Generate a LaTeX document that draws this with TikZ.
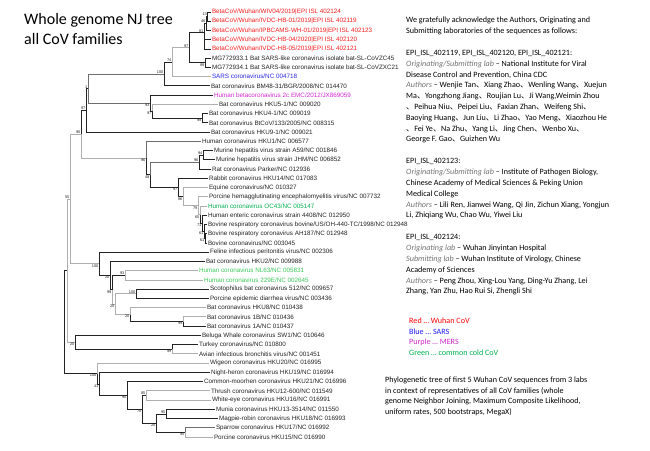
\documentclass[tikz,border=0pt]{standalone}
\usepackage{fontspec}
\setmainfont{Carlito}
\newfontfamily\arialf{Liberation Sans}
\newfontfamily\cjkf{Noto Sans CJK SC}
\definecolor{wred}{RGB}{245,30,30}
\definecolor{sblue}{RGB}{40,40,225}
\definecolor{mpur}{RGB}{215,40,215}
\definecolor{cgreen}{RGB}{0,176,80}
\definecolor{lgreen}{RGB}{60,200,90}
\definecolor{dk}{RGB}{35,35,35}
\definecolor{lt}{RGB}{175,175,175}
\definecolor{md}{RGB}{110,110,110}
\newcommand\dn{{\cjkf 、}}
\newcommand\ita[1]{{\itshape\color{black!55}#1}}
\tikzset{
  br/.style={draw=dk, line width=0.9pt},
  brl/.style={draw=lt, line width=0.9pt},
  brm/.style={draw=md, line width=0.9pt},
  lf/.style={anchor=west, inner sep=0.8pt, font=\arialf\fontsize{6.3}{7}\selectfont, text=dk},
  bsa/.style={anchor=south east, inner sep=0.4pt, font=\arialf\fontsize{3.9}{4}\selectfont, text=dk},
  bsb/.style={anchor=north east, inner sep=0.4pt, font=\arialf\fontsize{3.9}{4}\selectfont, text=dk},
  txt/.style={anchor=north west, inner sep=0pt, align=left, font=\fontsize{8.1}{10.8}\selectfont, text=black}
}
\begin{document}
\begin{tikzpicture}[x=1pt,y=-1pt]
\fill[white] (0,0) rectangle (650,450);
\useasboundingbox (0,0) rectangle (650,450);

% title
\node[anchor=north west, inner sep=0pt, align=left, font=\fontsize{16}{20}\selectfont] (title) at (24,13) {Whole genome NJ tree\\all CoV families};

% leaves
\coordinate (l0) at (211,12.0);
\coordinate (l1) at (211,21.2);
\coordinate (l2) at (211,30.5);
\coordinate (l3) at (211,39.7);
\coordinate (l4) at (211,49.0);
\coordinate (l5) at (211,58.2);
\coordinate (l6) at (211,67.4);
\coordinate (l7) at (211,76.7);
\coordinate (l8) at (210,85.9);
\coordinate (l9) at (213,95.2);
\coordinate (l10) at (218,104.4);
\coordinate (l11) at (208,113.6);
\coordinate (l12) at (208,122.9);
\coordinate (l13) at (210,132.1);
\coordinate (l14) at (201,141.4);
\coordinate (l15) at (213,150.6);
\coordinate (l16) at (215,159.8);
\coordinate (l17) at (211,169.1);
\coordinate (l18) at (208,178.3);
\coordinate (l19) at (208,187.6);
\coordinate (l20) at (208,196.8);
\coordinate (l21) at (207,206.0);
\coordinate (l22) at (207,215.3);
\coordinate (l23) at (207,224.5);
\coordinate (l24) at (207,233.8);
\coordinate (l25) at (207,243.0);
\coordinate (l26) at (209,252.2);
\coordinate (l27) at (205,261.5);
\coordinate (l28) at (198,270.7);
\coordinate (l29) at (203,280.0);
\coordinate (l30) at (209,289.2);
\coordinate (l31) at (209,298.4);
\coordinate (l32) at (206,307.7);
\coordinate (l33) at (206,316.9);
\coordinate (l34) at (206,326.2);
\coordinate (l35) at (201,335.4);
\coordinate (l36) at (198,344.6);
\coordinate (l37) at (198,353.9);
\coordinate (l38) at (209,363.1);
\coordinate (l39) at (210,372.4);
\coordinate (l40) at (203,381.6);
\coordinate (l41) at (210,390.8);
\coordinate (l42) at (211,400.1);
\coordinate (l43) at (215,409.3);
\coordinate (l44) at (218,418.6);
\coordinate (l45) at (215,427.8);
\coordinate (l46) at (213,437.0);

% leaf labels
\node[lf,text=wred] (t0) at (l0) {BetaCoV/Wuhan/WIV04/2019|EPI ISL 402124};
\node[lf,text=wred] (t1) at (l1) {BetaCoV/Wuhan/IVDC-HB-01/2019|EPI ISL 402119};
\node[lf,text=wred] (t2) at (l2) {BetaCoV/Wuhan/IPBCAMS-WH-01/2019|EPI ISL 402123};
\node[lf,text=wred] (t3) at (l3) {BetaCoV/Wuhan/IVDC-HB-04/2020|EPI ISL 402120};
\node[lf,text=wred] (t4) at (l4) {BetaCoV/Wuhan/IVDC-HB-05/2019|EPI ISL 402121};
\node[lf] (t5) at (l5) {MG772933.1 Bat SARS-like coronavirus isolate bat-SL-CoVZC45};
\node[lf] (t6) at (l6) {MG772934.1 Bat SARS-like coronavirus isolate bat-SL-CoVZXC21};
\node[lf,text=sblue] (t7) at (l7) {SARS coronavirus/NC 004718};
\node[lf] (t8) at (l8) {Bat coronavirus BM48-31/BGR/2008/NC 014470};
\node[lf,text=mpur] (t9) at (l9) {Human betacoronavirus 2c EMC/2012/JX869059};
\node[lf] (t10) at (l10) {Bat coronavirus HKU5-1/NC 009020};
\node[lf] (t11) at (l11) {Bat coronavirus HKU4-1/NC 009019};
\node[lf] (t12) at (l12) {Bat coronavirus BtCoV/133/2005/NC 008315};
\node[lf] (t13) at (l13) {Bat coronavirus HKU9-1/NC 009021};
\node[lf] (t14) at (l14) {Human coronavirus HKU1/NC 006577};
\node[lf] (t15) at (l15) {Murine hepatitis virus strain A59/NC 001846};
\node[lf] (t16) at (l16) {Murine hepatitis virus strain JHM/NC 006852};
\node[lf] (t17) at (l17) {Rat coronavirus Parker/NC 012936};
\node[lf] (t18) at (l18) {Rabbit coronavirus HKU14/NC 017083};
\node[lf] (t19) at (l19) {Equine coronavirus/NC 010327};
\node[lf] (t20) at (l20) {Porcine hemagglutinating encephalomyelitis virus/NC 007732};
\node[lf,text=cgreen] (t21) at (l21) {Human coronavirus OC43/NC 005147};
\node[lf] (t22) at (l22) {Human enteric coronavirus strain 4408/NC 012950};
\node[lf] (t23) at (l23) {Bovine respiratory coronavirus bovine/US/OH-440-TC/1998/NC 012948};
\node[lf] (t24) at (l24) {Bovine respiratory coronavirus AH187/NC 012948};
\node[lf] (t25) at (l25) {Bovine coronavirus/NC 003045};
\node[lf] (t26) at (l26) {Feline infectious peritonitis virus/NC 002306};
\node[lf] (t27) at (l27) {Bat coronavirus HKU2/NC 009988};
\node[lf,text=lgreen] (t28) at (l28) {Human coronavirus NL63/NC 005831};
\node[lf,text=lgreen] (t29) at (l29) {Human coronavirus 229E/NC 002645};
\node[lf] (t30) at (l30) {Scotophilus bat coronavirus 512/NC 009657};
\node[lf] (t31) at (l31) {Porcine epidemic diarrhea virus/NC 003436};
\node[lf] (t32) at (l32) {Bat coronavirus HKU8/NC 010438};
\node[lf] (t33) at (l33) {Bat coronavirus 1B/NC 010436};
\node[lf] (t34) at (l34) {Bat coronavirus 1A/NC 010437};
\node[lf] (t35) at (l35) {Beluga Whale coronavirus SW1/NC 010646};
\node[lf] (t36) at (l36) {Turkey coronavirus/NC 010800};
\node[lf] (t37) at (l37) {Avian infectious bronchitis virus/NC 001451};
\node[lf] (t38) at (l38) {Wigeon coronavirus HKU20/NC 016995};
\node[lf] (t39) at (l39) {Night-heron coronavirus HKU19/NC 016994};
\node[lf] (t40) at (l40) {Common-moorhen coronavirus HKU21/NC 016996};
\node[lf] (t41) at (l41) {Thrush coronavirus HKU12-600/NC 011549};
\node[lf] (t42) at (l42) {White-eye coronavirus HKU16/NC 016991};
\node[lf] (t43) at (l43) {Munia coronavirus HKU13-3514/NC 011550};
\node[lf] (t44) at (l44) {Magpie-robin coronavirus HKU18/NC 016993};
\node[lf] (t45) at (l45) {Sparrow coronavirus HKU17/NC 016992};
\node[lf] (t46) at (l46) {Porcine coronavirus HKU15/NC 016990};

% internal nodes
\coordinate (w1) at (207.5,16.6);
\coordinate (w2) at (206,23.5);
\coordinate (w3) at (204,32.8);
\coordinate (bsl) at (205,62.8);
\coordinate (b1) at (189,47.8);
\coordinate (b2) at (172,62.2);
\coordinate (b3) at (164,74);
\coordinate (m3) at (202,118.3);
\coordinate (m2) at (152,111.3);
\coordinate (m1) at (150,103.2);
\coordinate (p1) at (88,88.6);
\coordinate (p2) at (86,110.3);
\coordinate (mhv) at (203,155.2);
\coordinate (mr) at (199,162.2);
\coordinate (bb2) at (205,238.4);
\coordinate (bb1) at (204,231.5);
\coordinate (he) at (202,223.4);
\coordinate (oc) at (200,214.7);
\coordinate (ph) at (198,205.8);
\coordinate (eq) at (183,196.7);
\coordinate (rab) at (178,187.5);
\coordinate (e1) at (150,174.9);
\coordinate (emb) at (146,158.1);
\coordinate (beta) at (81,134.2);
\coordinate (sp) at (136,293.8);
\coordinate (bat1) at (183,321.5);
\coordinate (hk8) at (130,314.6);
\coordinate (a4) at (115,304.2);
\coordinate (nl) at (125,275.3);
\coordinate (a3) at (112,289.8);
\coordinate (a2) at (110,275.6);
\coordinate (a1) at (99,263.9);
\coordinate (ab) at (70,199);
\coordinate (tk) at (172,349.3);
\coordinate (gm) at (75,342.4);
\coordinate (abg) at (67,270.7);
\coordinate (mm) at (166,414);
\coordinate (spp) at (185,432.4);
\coordinate (mu) at (156,423.2);
\coordinate (th) at (146,395.5);
\coordinate (d4) at (142,409.3);
\coordinate (d3) at (127,395.5);
\coordinate (d2) at (99,384);
\coordinate (d1) at (97,373.5);
\coordinate (root) at (64,322);

% branches
\draw[br] (w1) |- (l0); \draw[br] (w1) |- (l1);
\draw[br] (w2) |- (w1); \draw[br] (w2) |- (l2);
\draw[br] (w3) |- (w2); \draw[br] (w3) |- (l3); \draw[br] (w3) |- (l4);
\draw[br] (bsl) |- (l5); \draw[br] (bsl) |- (l6);
\draw[br] (b1) |- (w3); \draw[br] (b1) |- (bsl);
\draw[brl] (b2) |- (b1); \draw[brl] (b2) |- (l7);
\draw[br] (b3) |- (b2); \draw[br] (b3) |- (l8);
\draw[br] (m3) |- (l11); \draw[br] (m3) |- (l12);
\draw[brl] (m2) |- (l10); \draw[br] (m2) |- (m3);
\draw[br] (m1) |- (l9); \draw[br] (m1) |- (m2);
\draw[brm] (p1) |- (b3); \draw[brm] (p1) |- (m1);
\draw[br] (p2) |- (p1); \draw[br] (p2) |- (l13);
\draw[br] (mhv) |- (l15); \draw[br] (mhv) |- (l16);
\draw[br] (mr) |- (mhv); \draw[br] (mr) |- (l17);
\draw[br] (bb2) |- (l24); \draw[br] (bb2) |- (l25);
\draw[br] (bb1) |- (l23); \draw[br] (bb1) |- (bb2);
\draw[br] (he) |- (l22); \draw[br] (he) |- (bb1);
\draw[brl] (oc) |- (l21); \draw[br] (oc) |- (he);
\draw[brl] (ph) |- (l20); \draw[brl] (ph) |- (oc);
\draw[brl] (eq) |- (l19); \draw[brl] (eq) |- (ph);
\draw[br] (rab) |- (l18); \draw[br] (rab) |- (eq);
\draw[brm] (e1) |- (mr); \draw[br] (e1) |- (rab);
\draw[brm] (emb) |- (l14); \draw[br] (emb) |- (e1);
\draw[br] (beta) |- (p2); \draw[brl] (beta) |- (emb);
\draw[br] (sp) |- (l30); \draw[br] (sp) |- (l31);
\draw[brl] (bat1) |- (l33); \draw[br] (bat1) |- (l34);
\draw[brl] (hk8) |- (l32); \draw[br] (hk8) |- (bat1);
\draw[brl] (a4) |- (sp); \draw[brl] (a4) |- (hk8);
\draw[brl] (nl) |- (l28); \draw[brl] (nl) |- (l29);
\draw[br] (a3) |- (nl); \draw[brl] (a3) |- (a4);
\draw[br] (a2) |- (l27); \draw[br] (a2) |- (a3);
\draw[br] (a1) |- (l26); \draw[br] (a1) |- (a2);
\draw[brl] (ab) |- (beta); \draw[brl] (ab) |- (a1);
\draw[br] (tk) |- (l36); \draw[brl] (tk) |- (l37);
\draw[br] (gm) |- (l35); \draw[br] (gm) |- (tk);
\draw[brl] (abg) |- (ab); \draw[brl] (abg) |- (gm);
\draw[br] (mm) |- (l43); \draw[br] (mm) |- (l44);
\draw[brm] (spp) |- (l45); \draw[brl] (spp) |- (l46);
\draw[br] (mu) |- (mm); \draw[br] (mu) |- (spp);
\draw[brl] (th) |- (l41); \draw[brl] (th) |- (l42);
\draw[br] (d4) |- (th); \draw[br] (d4) |- (mu);
\draw[br] (d3) |- (l40); \draw[br] (d3) |- (d4);
\draw[br] (d2) |- (l39); \draw[br] (d2) |- (d3);
\draw[brl] (d1) |- (l38); \draw[br] (d1) |- (d2);
\draw[br] (root) |- (abg); \draw[br] (root) |- (d1);

% bootstrap values
\node[bsa] (v1) at (w1) {13};
\node[bsa] (v2) at (w2) {46};
\node[bsa] (v3) at (w3) {81};
\node[bsb] (v4) at (bsl) {99};
\node[bsa] (v5) at (b1) {97};
\node[bsa] (v6) at (b2) {74};
\node[bsa] (v7) at (b3) {100};
\node[bsb] (v8) at (m3) {99};
\node[bsb] (v9) at (m2) {97};
\node[bsb] (v10) at (m1) {93};
\node[bsa] (v11) at (p1) {1};
\node[bsa] (v12) at (p2) {97};
\node[bsa] (v13) at (beta) {90};
\node[bsa] (v14) at (mhv) {94};
\node[bsa] (v15) at (mr) {96};
\node[bsb] (v16) at (bb2) {61};
\node[bsb] (v17) at (bb1) {61};
\node[bsb] (v18) at (he) {71};
\node[bsb] (v19) at (oc) {65};
\node[bsb] (v20) at (ph) {79};
\node[bsb] (v21) at (eq) {86};
\node[bsb] (v22) at (rab) {97};
\node[bsb] (v23) at (e1) {49};
\node[bsb] (v24) at (emb) {96};
\node[bsa] (v25) at (ab) {55};
\node[bsb] (v26) at (a1) {100};
\node[bsb] (v27) at (a2) {20};
\node[bsb] (v28) at (a3) {99};
\node[bsa] (v29) at (nl) {93};
\node[bsa] (v30) at (sp) {100};
\node[bsb] (v31) at (a4) {20};
\node[bsb] (v32) at (hk8) {20};
\node[bsb] (v33) at (bat1) {99};
\node[bsb] (v34) at (gm) {20};
\node[bsb] (v35) at (tk) {99};
\node[bsb] (v36) at (d1) {100};
\node[bsb] (v37) at (d2) {41};
\node[bsb] (v38) at (d3) {90};
\node[bsb] (v39) at (d4) {70};
\node[bsa] (v40) at (th) {85};
\node[bsb] (v41) at (mu) {20};
\node[bsa] (v42) at (mm) {95};
\node[bsb] (v43) at (spp) {95};

% right-hand text
\node[txt] (ack) at (406,17) {We gratefully acknowledge the Authors, Originating and\\Submitting laboratories of the sequences as follows:};
\node[txt] (lab1) at (406,50) {EPI\_ISL\_402119, EPI\_ISL\_402120, EPI\_ISL\_402121:\\
\ita{Originating/Submitting lab} – National Institute for Viral\\
Disease Control and Prevention, China CDC\\
\ita{Authors} – Wenjie Tan\dn Xiang Zhao\dn Wenling Wang\dn Xuejun\\
Ma\dn Yongzhong Jiang\dn Roujian Lu\dn Ji Wang,Weimin Zhou\\
\dn Peihua Niu\dn Peipei Liu\dn Faxian Zhan\dn Weifeng Shi\dn\\
Baoying Huang\dn Jun Liu\dn Li Zhao\dn Yao Meng\dn Xiaozhou He\\
\dn Fei Ye\dn Na Zhu\dn Yang Li\dn Jing Chen\dn Wenbo Xu\dn\\
George F. Gao\dn Guizhen Wu};
\node[txt] (lab2) at (406,158.5) {EPI\_ISL\_402123:\\
\ita{Originating/Submitting lab} – Institute of Pathogen Biology,\\
Chinese Academy of Medical Sciences \& Peking Union\\
Medical College\\
\ita{Authors} – Lili Ren, Jianwei Wang, Qi Jin, Zichun Xiang, Yongjun\\
Li, Zhiqiang Wu, Chao Wu, Yiwei Liu};
\node[txt] (lab3) at (406,234.5) {EPI\_ISL\_402124:\\
\ita{Originating lab} – Wuhan Jinyintan Hospital\\
\ita{Submitting lab} – Wuhan Institute of Virology, Chinese\\
Academy of Sciences\\
\ita{Authors} – Peng Zhou, Xing-Lou Yang, Ding-Yu Zhang, Lei\\
Zhang, Yan Zhu, Hao Rui Si, Zhengli Shi};
\node[txt, font=\fontsize{8.1}{10.5}\selectfont] (legend) at (409,318) {{\color[RGB]{255,0,0}Red … Wuhan CoV}\\
{\color[RGB]{30,30,240}Blue … SARS}\\
{\color[RGB]{205,40,205}Purple … MERS}\\
{\color[RGB]{0,176,80}Green … common cold CoV}};
\node[txt] (cap) at (385,376.5) {Phylogenetic tree of first 5 Wuhan CoV sequences from 3 labs\\
in context of representatives of all CoV families (whole\\
genome Neighbor Joining, Maximum Composite Likelihood,\\
uniform rates, 500 bootstraps, MegaX)};
\end{tikzpicture}
\end{document}
